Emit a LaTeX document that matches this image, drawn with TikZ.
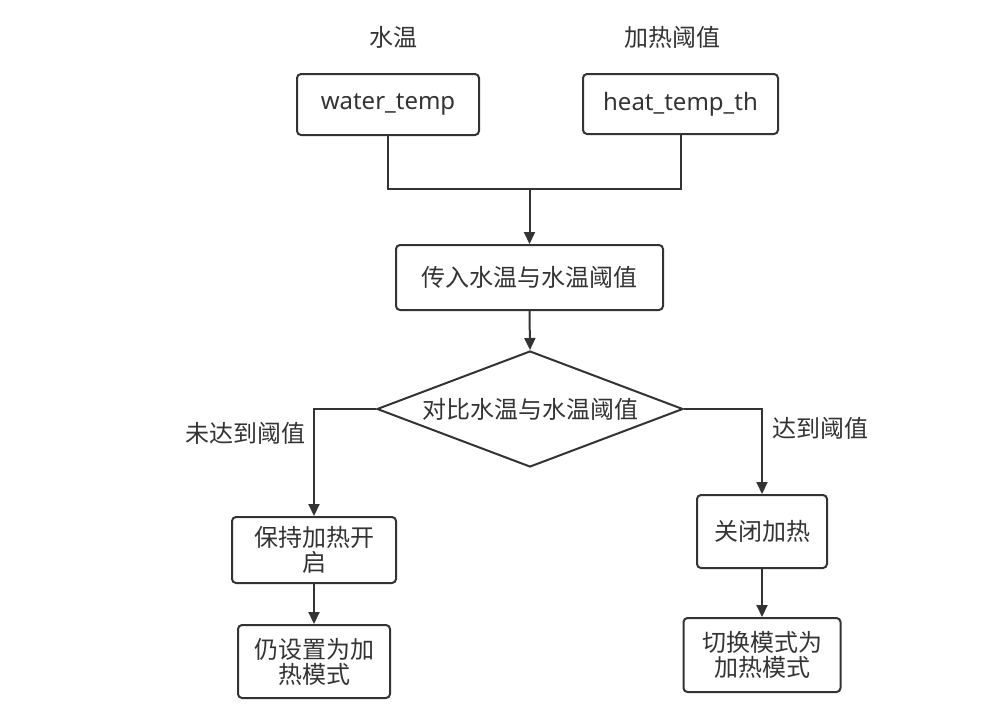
\documentclass[tikz,border=0pt]{standalone}
\usepackage{fontspec}
\setmainfont{Noto Sans}
\newfontfamily\cjk{Noto Sans CJK SC}
\usetikzlibrary{shapes.geometric,arrows.meta}
\definecolor{ink}{HTML}{333333}
\tikzset{
  box/.style={draw=ink, line width=2pt, rounded corners=4pt, align=center, inner sep=0pt, text=ink},
  dia/.style={draw=ink, line width=2pt, diamond, shape aspect=2.64, inner sep=0pt, text=ink, minimum width=306pt, minimum height=116pt},
  lbl/.style={text=ink, inner sep=0pt},
  conn/.style={draw=ink, line width=2pt},
  arr/.style={conn, -{Triangle[length=12pt,width=11pt]}},
  cn/.style={font=\cjk\fontsize{24}{25}\selectfont},
  lat/.style={font=\fontsize{24}{25}\selectfont}
}
\begin{document}
\begin{tikzpicture}[x=1pt,y=-1pt]
\useasboundingbox (0,0) rectangle (988,718);
\node[lbl,cn] (l1) at (393,37) {水温};
\node[lbl,cn] (l2) at (672,37) {加热阈值};
\node[box,lat,minimum width=182pt,minimum height=61pt] (w) at (388,104.5) {water\_temp};
\node[box,lat,minimum width=195pt,minimum height=60pt] (h) at (680.5,104) {heat\_temp\_th};
\node[box,cn,minimum width=267pt,minimum height=65pt] (p) at (529.5,277.5) {传入水温与水温阈值};
\node[dia,cn] (d) at (530,409) {对比水温与水温阈值};
\node[box,cn,minimum width=164pt,minimum height=66pt] (k1) at (314,550) {保持加热开\\启};
\node[box,cn,minimum width=152pt,minimum height=73pt] (k2) at (314,661.5) {仍设置为加\\热模式};
\node[box,cn,minimum width=130pt,minimum height=73pt] (c1) at (762,531.5) {关闭加热};
\node[box,cn,minimum width=157pt,minimum height=74pt] (c2) at (762,655) {切换模式为\\加热模式};
\node[lbl,cn] (ln) at (245,433) {未达到阈值};
\node[lbl,cn] (ly) at (820,428) {达到阈值};
\coordinate (j) at (529.5,189);
\draw[conn] (w.south) |- (j);
\draw[conn] (h.south) |- (j);
\draw[arr] (j) -- (p.north);
\draw[arr] (p.south) -- (d.north);
\draw[arr] (d.west) -| (k1.north);
\draw[arr] (d.east) -| (c1.north);
\draw[arr] (k1.south) -- (k2.north);
\draw[arr] (c1.south) -- (c2.north);
\end{tikzpicture}
\end{document}
